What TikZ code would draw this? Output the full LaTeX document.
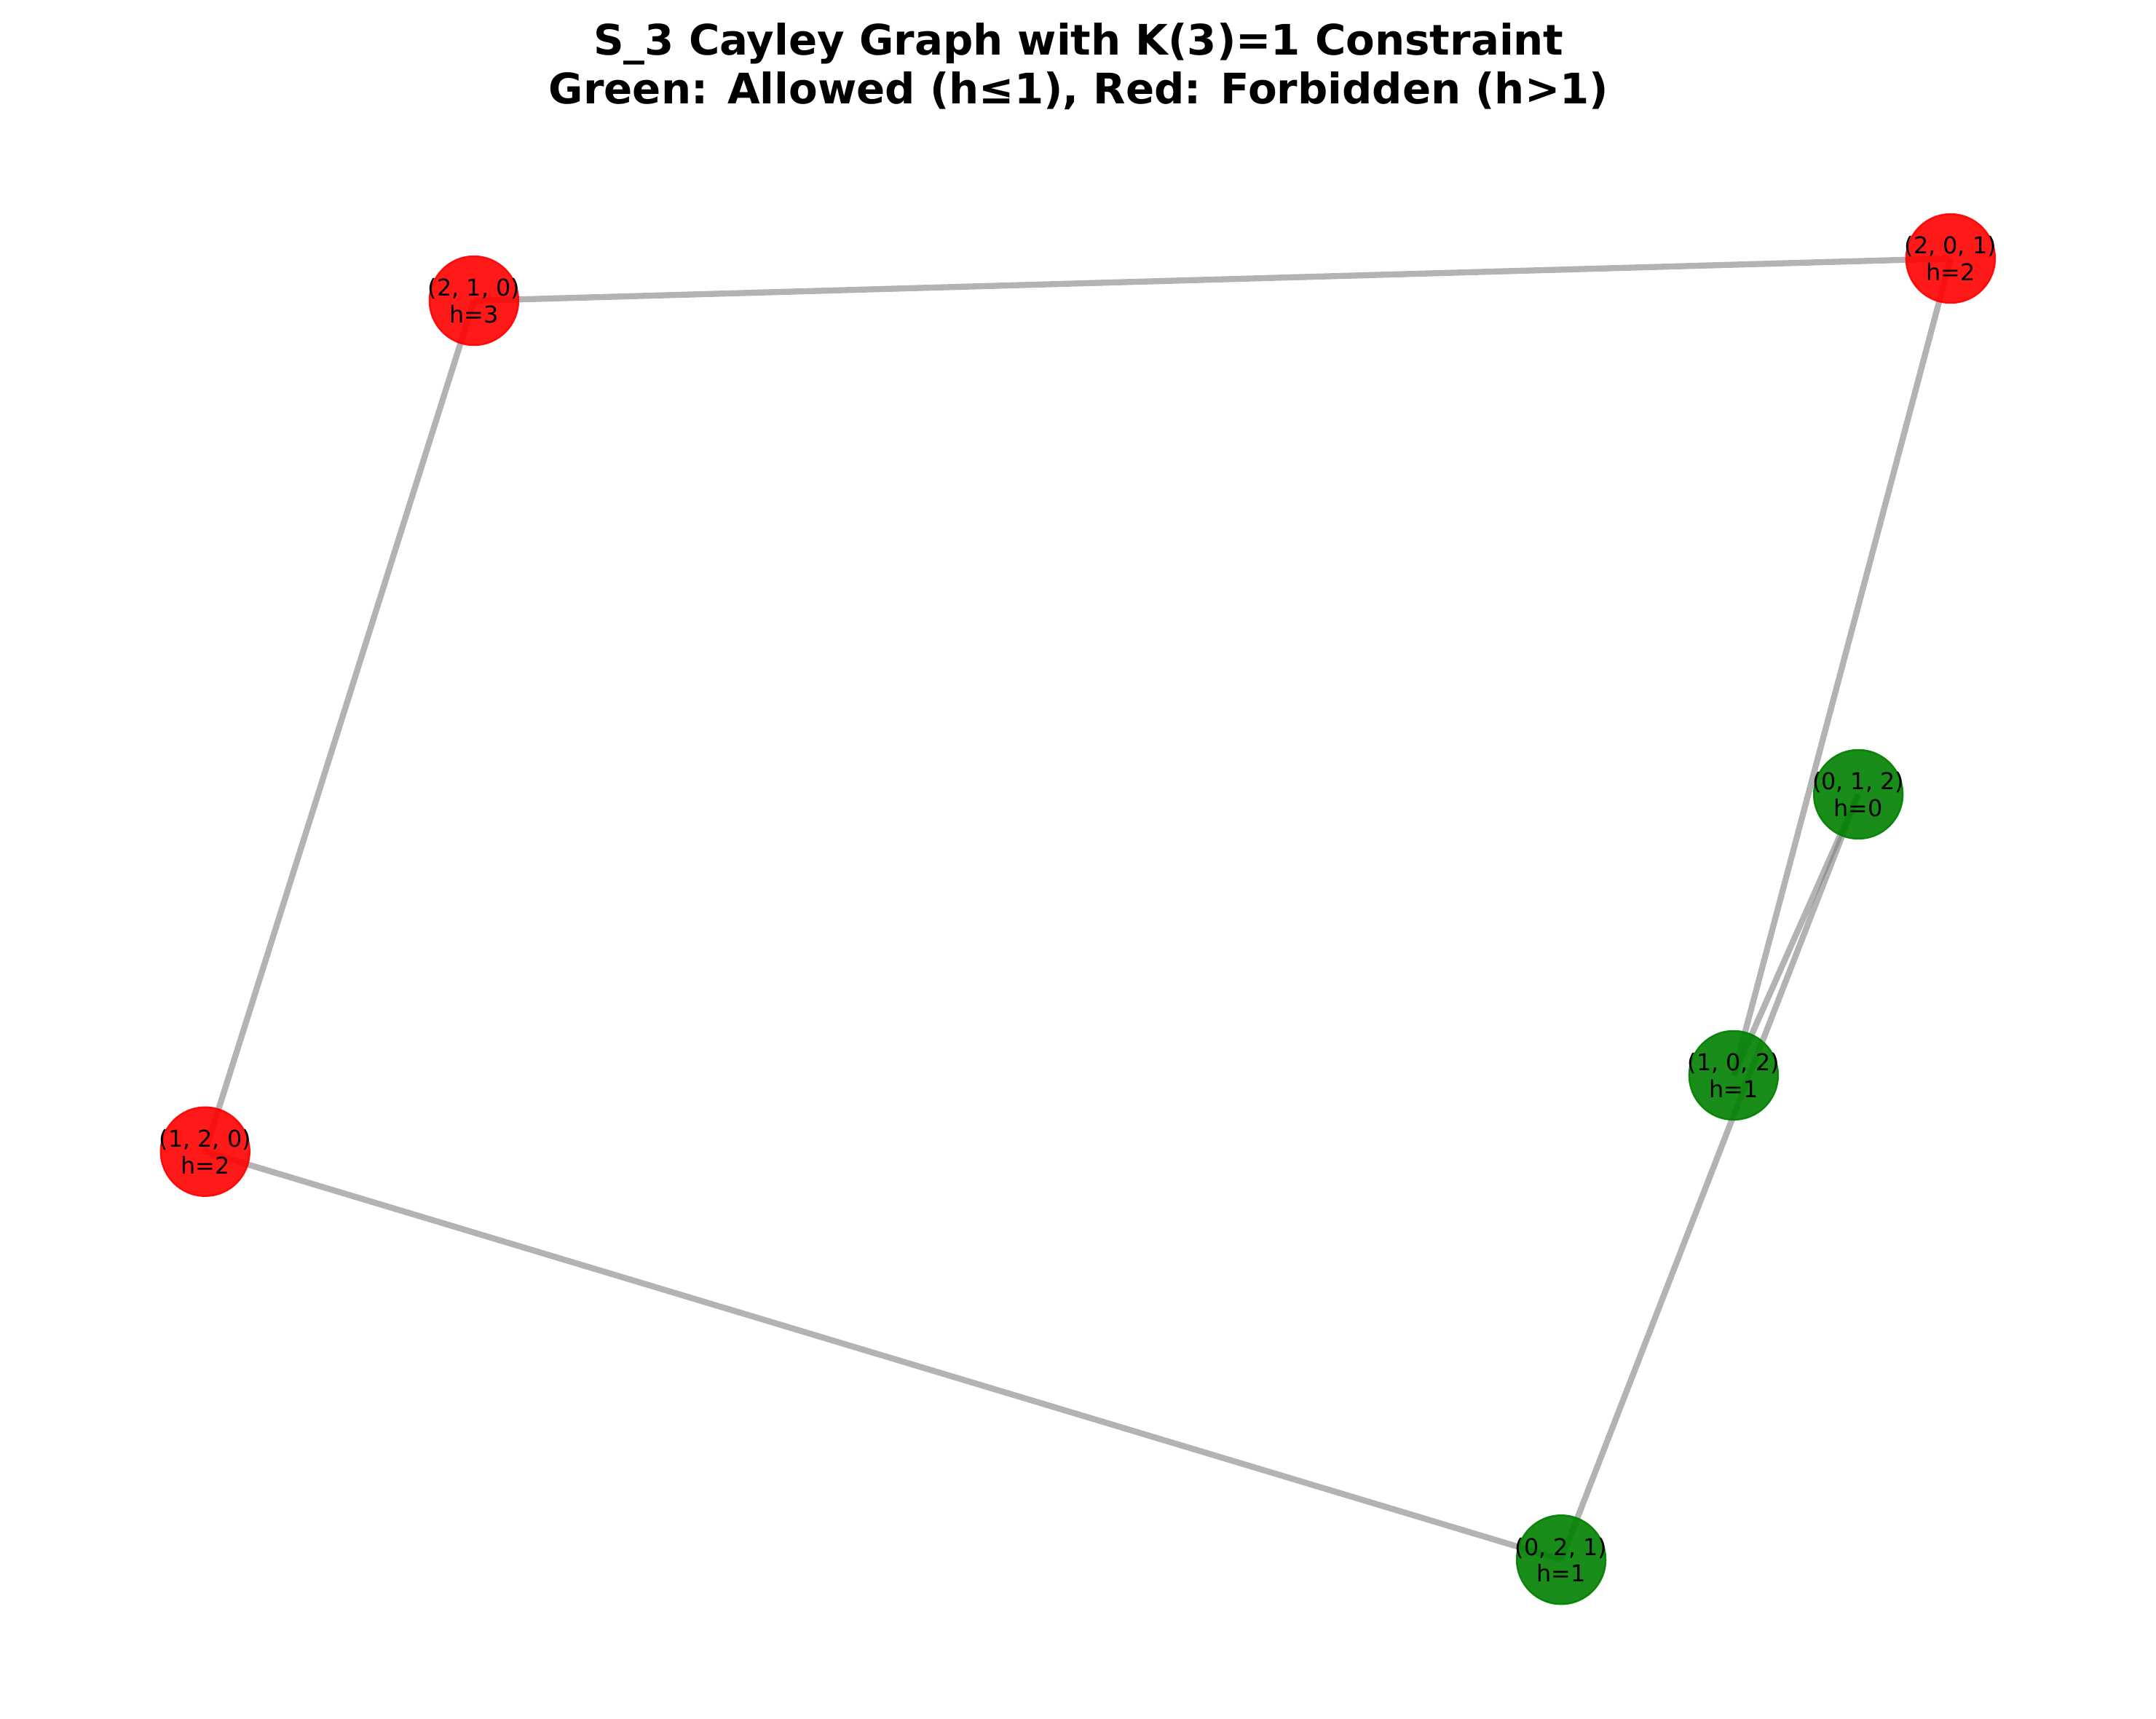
\documentclass[tikz,border=0pt]{standalone}
\usepackage{fontspec}
\setmainfont{DejaVu Sans}
\usepackage{tikz}
\usetikzlibrary{shapes.geometric, backgrounds}
\definecolor{allowgreen}{RGB}{0,128,0}
\tikzstyle{forbidden} = [circle, fill=red, draw=red, fill opacity=0.9, draw opacity=0.9, line width=0.35pt, minimum size=0.646cm, inner sep=0pt]
\tikzstyle{allowed} = [forbidden, fill=allowgreen, draw=allowgreen]
\tikzstyle{nodetext} = [align=center, font=\fontsize{4.8}{5.5}\selectfont, inner sep=0pt, fill opacity=1, text opacity=1]
\tikzstyle{link} = [draw=gray, draw opacity=0.6, line width=1.25pt]
\tikzstyle{heading} = [align=center, font=\fontsize{8.7}{10.2}\selectfont\bfseries]

\begin{document}
\begin{tikzpicture}[x=0.01cm, y=-0.01cm]
\useasboundingbox (0,0) rectangle (1568,1250);
%title
\node[heading] (head) at (784.5,48.3) {S\_3 Cayley Graph with K(3)=1 Constraint\\Green: Allowed (h≤1), Red: Forbidden (h>1)};
%forbidden
\node[forbidden, label={[nodetext]center:{(2, 1, 0)\\h=3}}] (p210) at (344.7,218.7) {};
\node[forbidden, label={[nodetext]center:{(2, 0, 1)\\h=2}}] (p201) at (1418.6,188.0) {};
\node[forbidden, label={[nodetext]center:{(1, 2, 0)\\h=2}}] (p120) at (149.2,837.6) {};
%allowed
\node[allowed, label={[nodetext]center:{(0, 1, 2)\\h=0}}] (p012) at (1351.5,577.7) {};
\node[allowed, label={[nodetext]center:{(1, 0, 2)\\h=1}}] (p102) at (1260.8,782.1) {};
\node[allowed, label={[nodetext]center:{(0, 2, 1)\\h=1}}] (p021) at (1135.4,1134.4) {};
%edges
\begin{pgfonlayer}{background}
\draw[link] (p210.center) -- (p201.center);
\draw[link] (p210.center) -- (p120.center);
\draw[link] (p201.center) -- (p102.center);
\draw[link] (p012.center) -- (p102.center);
\draw[link] (p012.center) -- (p021.center);
\draw[link] (p120.center) -- (p021.center);
\end{pgfonlayer}
\end{tikzpicture}
\end{document}
